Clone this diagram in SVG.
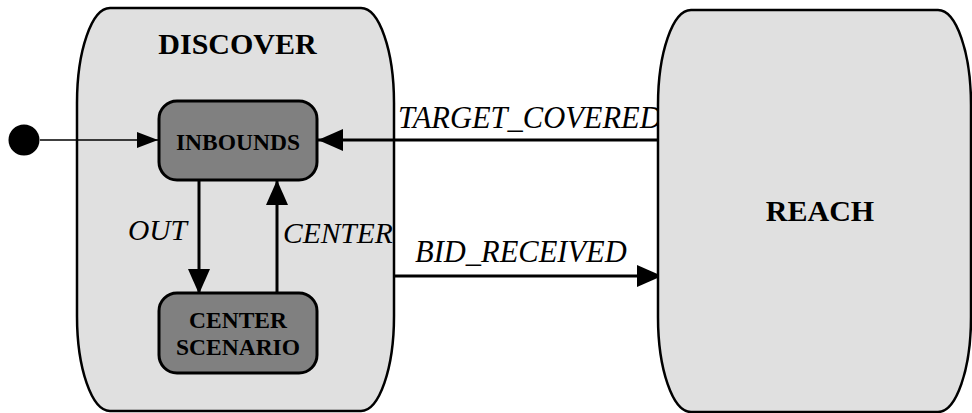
<svg xmlns="http://www.w3.org/2000/svg" width="972" height="413" viewBox="0 0 972 413">
  <style>
    .super { fill: #e0e0e0; stroke: #000; stroke-width: 2.5; }
    .state { fill: #808080; stroke: #000; stroke-width: 3; }
    .title { font-family: "Liberation Serif", "Times New Roman", serif; font-weight: bold; font-size: 30px; text-anchor: middle; fill: #000; }
    .name { font-family: "Liberation Serif", "Times New Roman", serif; font-weight: bold; font-size: 23.5px; text-anchor: middle; fill: #000; }
    .label { font-family: "Liberation Serif", "Times New Roman", serif; font-style: italic; font-size: 29.5px; fill: #000; }
    .label-wide { font-size: 30.5px; }
    .edge { stroke: #000; stroke-width: 3; fill: none; marker-end: url(#head); }
    .edge-thin { stroke: #000; stroke-width: 1.7; fill: none; marker-end: url(#head-small); }
  </style>
  <defs>
    <marker id="head" viewBox="0 0 25 22" refX="25" refY="11" markerWidth="25" markerHeight="22" orient="auto" markerUnits="userSpaceOnUse">
      <path d="M0,0 L25,11 L0,22 Z" fill="#000"/>
    </marker>
    <marker id="head-small" viewBox="0 0 21 16" refX="21" refY="8" markerWidth="21" markerHeight="16" orient="auto" markerUnits="userSpaceOnUse">
      <path d="M0,0 L21,8 L0,16 Z" fill="#000"/>
    </marker>
  </defs>

  <!-- composite state DISCOVER -->
  <g id="discover">
    <path class="super" d="M110,8 H361 A33,95 0 0 1 394,103 V316 A33,95 0 0 1 361,411 H110 A33,95 0 0 1 77,316 V103 A33,95 0 0 1 110,8 Z"/>
    <text class="title" x="237.5" y="54">DISCOVER</text>
  </g>

  <!-- initial pseudo-state -->
  <g id="initial">
    <circle cx="24" cy="140" r="15.5" fill="#000"/>
  </g>

  <g id="inbounds">
    <rect class="state" x="159" y="101" width="158" height="79" rx="18" ry="18"/>
    <text class="name" x="238" y="150">INBOUNDS</text>
  </g>

  <g id="center-scenario">
    <rect class="state" x="159" y="293" width="158" height="80" rx="18" ry="18"/>
    <text class="name" x="238" y="328">CENTER</text>
    <text class="name" x="238" y="355">SCENARIO</text>
  </g>

  <!-- transitions -->
  <g id="connectors">
    <line class="edge-thin" x1="40" y1="140" x2="158" y2="140"/>
    <line class="edge" x1="658" y1="140" x2="318" y2="140"/>
    <line class="edge" x1="199" y1="180" x2="199" y2="294"/>
    <line class="edge" x1="277" y1="293" x2="277" y2="180"/>
    <line class="edge" x1="395" y1="276" x2="662" y2="276"/>
    <text class="label" x="128" y="240">OUT</text>
    <text class="label" x="283" y="243">CENTER</text>
    <text class="label label-wide" x="398" y="128">TARGET_COVERED</text>
    <text class="label label-wide" x="415" y="262">BID_RECEIVED</text>
  </g>

  <!-- composite state REACH -->
  <g id="reach">
    <path class="super" d="M691,10 H938 A33,95 0 0 1 971,105 V317 A33,95 0 0 1 938,412 H691 A33,95 0 0 1 658,317 V105 A33,95 0 0 1 691,10 Z"/>
    <text class="title" x="820" y="221">REACH</text>
  </g>
</svg>
